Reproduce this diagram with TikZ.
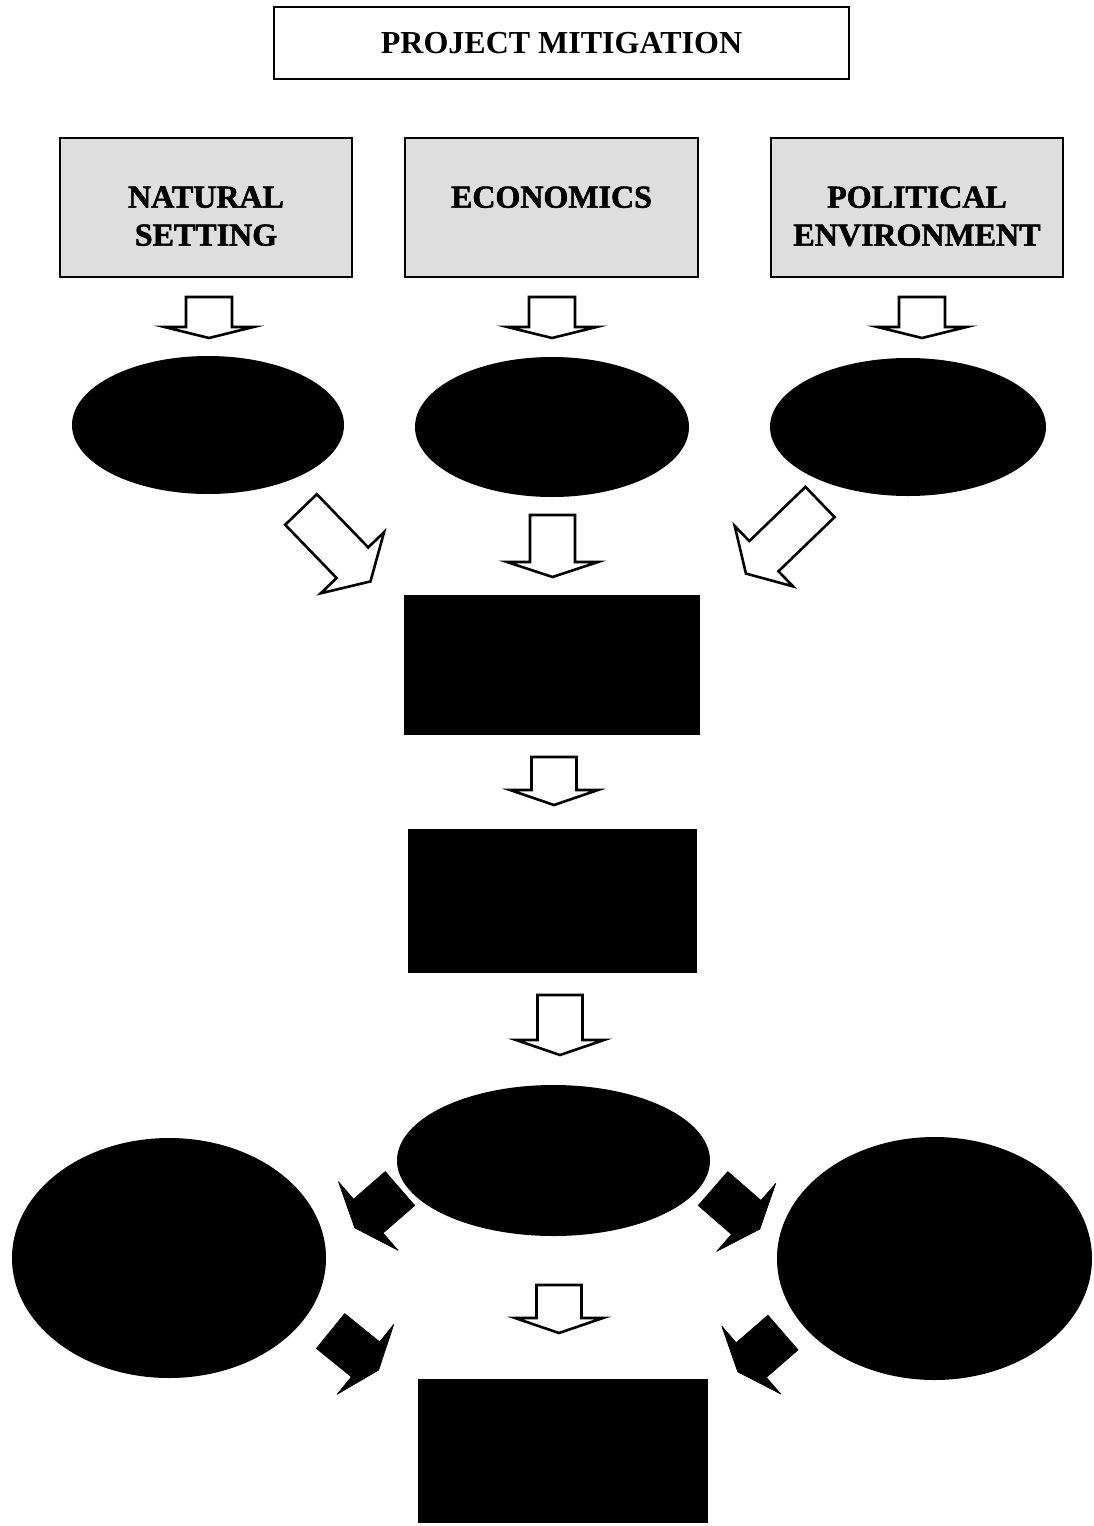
\documentclass[tikz,border=0pt]{standalone}
\usepackage{fontspec}
\setmainfont{Liberation Serif}
\newfontfamily\heavyfont[FakeBold=1.6]{Liberation Serif Bold}
\usetikzlibrary{shapes.geometric}

% Block arrow: tail centre, direction angle, shaft length, shaft width, head width, head length
\newcommand{\blockarrow}[7][]{%
  \draw[#1, shift={(#2)}, rotate=#3]
    (0,-#5/2) -- (#4,-#5/2) -- (#4,-#6/2) -- (#4+#7,0) -- (#4,#6/2) -- (#4,#5/2) -- (0,#5/2) -- cycle;}

\tikzset{
  titlebox/.style={draw, line width=1.8pt, rectangle, inner sep=0pt,
    font=\bfseries\fontsize{32}{38}\selectfont},
  factorbox/.style={draw, line width=2.4pt, rectangle, fill=black!13, inner sep=0pt},
  factortext/.style={anchor=north, align=center, inner sep=0pt,
    font=\heavyfont\fontsize{32}{38}\selectfont},
  blackoval/.style={ellipse, fill=black, inner sep=0pt},
  blackbox/.style={rectangle, fill=black, inner sep=0pt},
  hollowarrow/.style={draw=black, fill=white, line width=2.6pt, line join=miter},
  solidarrow/.style={fill=black, draw=black, line width=0.6pt, line join=round},
}

\begin{document}
\begin{tikzpicture}[x=1pt, y=1pt]
\useasboundingbox (0,0) rectangle (1094,-1526);

% heading
\node[titlebox, minimum width=575, minimum height=72] (title) at (561.5,-43) {PROJECT MITIGATION};

% three factor boxes
\node[factorbox, minimum width=292, minimum height=139] (nat) at (206,-207.5) {};
\node[factorbox, minimum width=293, minimum height=139] (eco) at (551.5,-207.5) {};
\node[factorbox, minimum width=292, minimum height=139] (pol) at (917,-207.5) {};
\node[factortext] (natT) at ([yshift=-49.5]nat.north) {NATURAL\\SETTING};
\node[factortext] (ecoT) at ([yshift=-49.5]eco.north) {ECONOMICS};
\node[factortext] (polT) at ([yshift=-49.5]pol.north) {POLITICAL\\ENVIRONMENT};

% first row of ovals
\node[blackoval, minimum width=272, minimum height=138] (o1) at (208,-425) {};
\node[blackoval, minimum width=274, minimum height=140] (o2) at (552,-427) {};
\node[blackoval, minimum width=276, minimum height=138] (o3) at (908,-427) {};

% central chain
\node[blackbox, minimum width=296, minimum height=140] (b1) at (552,-665) {};
\node[blackbox, minimum width=289, minimum height=144] (b2) at (552.5,-901) {};
\node[blackoval, minimum width=313, minimum height=151] (o4) at (553.5,-1160.5) {};
\node[blackoval, minimum width=314, minimum height=240] (o5) at (169,-1258) {};
\node[blackoval, minimum width=315, minimum height=243] (o6) at (934.5,-1258.5) {};
\node[blackbox, minimum width=290, minimum height=144] (b3) at (563,-1451) {};

% arrow tails
\coordinate (t1) at (209,-297);
\coordinate (t2) at (552,-297);
\coordinate (t3) at (922,-297);
\coordinate (t4) at (301,-509.5);
\coordinate (t5) at (552.5,-515);
\coordinate (t6) at (820,-502);
\coordinate (t7) at (554,-757);
\coordinate (t8) at (560,-995);
\coordinate (t9) at (400,-1188.5);
\coordinate (t10) at (713,-1188.5);
\coordinate (t11) at (559,-1285);
\coordinate (t12) at (330.5,-1331);
\coordinate (t13) at (783,-1332.5);

% hollow arrows
\blockarrow[hollowarrow]{t1}{-90}{30}{46}{89}{11}
\blockarrow[hollowarrow]{t2}{-90}{30}{46}{89}{11}
\blockarrow[hollowarrow]{t3}{-90}{30}{46}{89}{11}
\blockarrow[hollowarrow]{t4}{-46}{74}{44}{88}{26}
\blockarrow[hollowarrow]{t5}{-90}{47}{45}{91}{15}
\blockarrow[hollowarrow]{t6}{-136}{78}{42}{84}{25}
\blockarrow[hollowarrow]{t7}{-90}{33}{45}{88}{15}
\blockarrow[hollowarrow]{t8}{-90}{45}{45}{88}{15}
\blockarrow[hollowarrow]{t11}{-90}{33}{45}{88}{15}

% solid arrows
\blockarrow[solidarrow]{t9}{-139}{42}{45}{91}{18}
\blockarrow[solidarrow]{t10}{-41}{44}{45}{90}{18}
\blockarrow[solidarrow]{t12}{-39}{45}{45}{90}{17}
\blockarrow[solidarrow]{t13}{-139}{42}{46}{90}{18}
\end{tikzpicture}
\end{document}
